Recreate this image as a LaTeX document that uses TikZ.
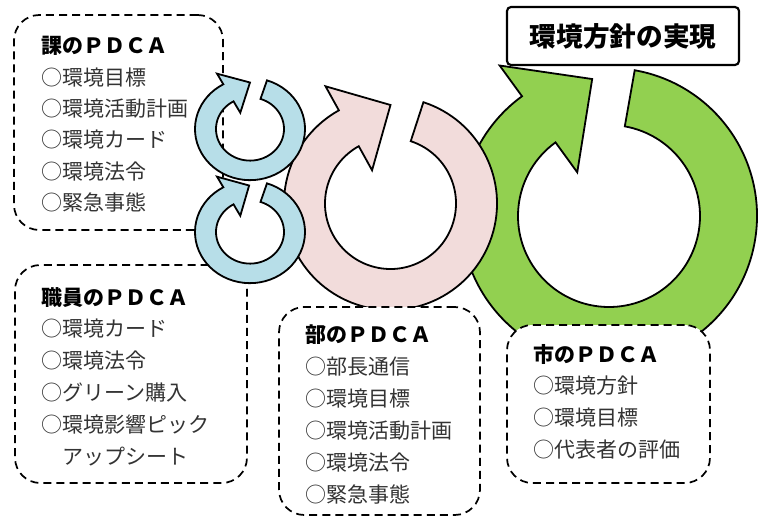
\documentclass[tikz,border=0pt]{standalone}
\usepackage{fontspec}
\setmainfont{Noto Sans CJK JP}
\definecolor{greenring}{HTML}{92D050}
\definecolor{pinkring}{HTML}{F2DCDB}
\definecolor{bluering}{HTML}{B7DEE8}
% #1 style, #2 outer r, #3 inner r, #4 tail angle, #5 head angle (negative), #6 tip angle, #7 tip r, #8 barb out r, #9 barb in r
\newcommand{\ringarrow}[9]{%
  \draw[#1] (#4:#2) arc[start angle=#4, end angle=#5, radius=#2]
    -- (#5:#8) -- (#6:#7) -- (#5:#9) -- (#5:#3)
    arc[start angle=#5, end angle=#4, radius=#3] -- cycle;}
\begin{document}
\begin{tikzpicture}[x=0.75pt,y=-0.75pt,
  ring/.style={draw=black, line width=1.35pt, line join=miter},
  pbox/.style={draw=black, fill=white, line width=1.3pt, dash pattern=on 6pt off 3.8pt, rounded corners=19pt, inner sep=0pt},
  headtxt/.style={font=\bfseries\fontsize{15.75pt}{18pt}\selectfont, inner sep=0pt, anchor=base west},
  itemtxt/.style={font=\fontsize{15.75pt}{18pt}\selectfont, text=black!80, inner sep=0pt, anchor=base west}]
\useasboundingbox (0,0) rectangle (767,517);

% green ring arrow
\begin{scope}[shift={(609,216)}, yscale=-1]
  \ringarrow{ring, fill=greenring}{148}{91}{80}{-234}{97}{138}{186}{54}
\end{scope}
% pink ring arrow
\begin{scope}[shift={(390.5,203.5)}, yscale=-1]
  \ringarrow{ring, fill=pinkring}{106.5}{65.5}{72}{-241}{90}{98.5}{134}{38}
\end{scope}

% dashed boxes
\node[pbox, minimum width=156.75pt, minimum height=161.25pt] (kabox) at (118.5,122.5) {};
\node[pbox, minimum width=174pt, minimum height=163.5pt] (shokubox) at (131,374) {};
\node[pbox, minimum width=150.75pt, minimum height=156pt] (bubox) at (379.5,411) {};
\node[pbox, minimum width=152.25pt, minimum height=118.5pt] (shibox) at (608.5,404) {};

% texts
\node[headtxt] (ka0) at (41,54) {課のＰＤＣＡ};
\foreach \t [count=\i] in {○環境目標, ○環境活動計画, ○環境カード, ○環境法令, ○緊急事態}
  \node[itemtxt] (ka\i) at (41,{54+31.3*\i}) {\t};

\node[headtxt] (sh0) at (41,305) {職員のＰＤＣＡ};
\foreach \t [count=\i] in {○環境カード, ○環境法令, ○グリーン購入, ○環境影響ピック, \quad アップシート}
  \node[itemtxt] (sh\i) at (41,{305+31.8*\i}) {\t};

\node[headtxt] (bu0) at (305,342) {部のＰＤＣＡ};
\foreach \t [count=\i] in {○部長通信, ○環境目標, ○環境活動計画, ○環境法令, ○緊急事態}
  \node[itemtxt] (bu\i) at (305,{342+32*\i}) {\t};

\node[headtxt] (si0) at (533,362) {市のＰＤＣＡ};
\foreach \t [count=\i] in {○環境方針, ○環境目標, ○代表者の評価}
  \node[itemtxt] (si\i) at (533,{362+31.7*\i}) {\t};

% blue ring arrows
\begin{scope}[shift={(250,129)}, yscale=-0.93]
  \ringarrow{ring, fill=bluering}{55}{34}{72}{-241}{90}{50}{68}{20}
\end{scope}
\begin{scope}[shift={(250,232)}, yscale=-0.93]
  \ringarrow{ring, fill=bluering}{55}{34}{72}{-241}{91}{50}{68}{20}
\end{scope}

% title box
\node[draw=black, fill=white, line width=1.6pt, rounded corners=3pt, minimum width=174pt, minimum height=43.5pt, inner sep=0pt, font=\bfseries\fontsize{20pt}{24pt}\selectfont] (title) at (623,36) {環境方針の実現};
\end{tikzpicture}
\end{document}
